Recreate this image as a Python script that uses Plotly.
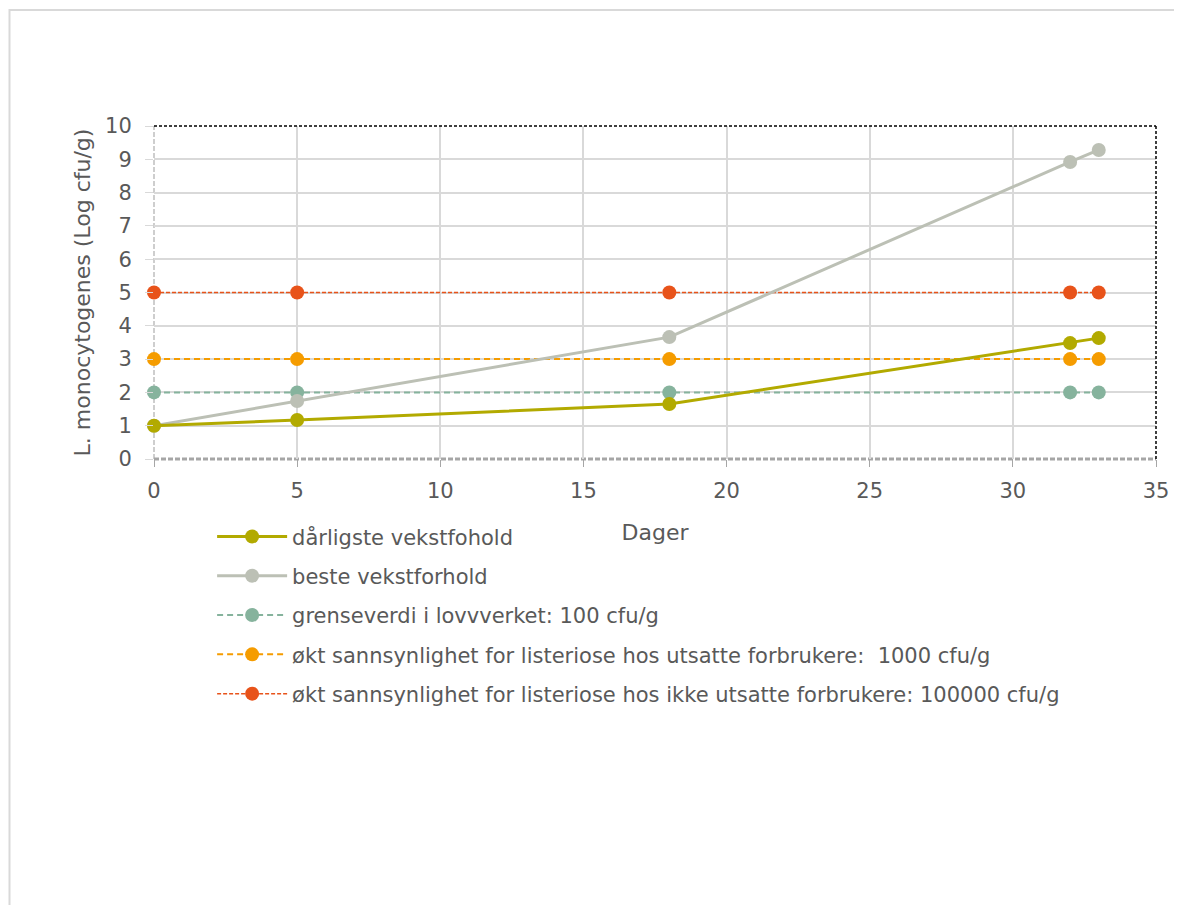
import plotly.graph_objects as go

days = [0, 5, 18, 32, 33]
worst = [1.0, 1.17, 1.65, 3.48, 3.63]
best = [1.0, 1.74, 3.66, 8.92, 9.28]
limit_100 = [2, 2, 2, 2, 2]
limit_1000 = [3, 3, 3, 3, 3]
limit_100000 = [5, 5, 5, 5, 5]

names = [
    "dårligste vekstfohold",
    "beste vekstforhold",
    "grenseverdi i lovvverket: 100 cfu/g",
    "økt sannsynlighet for listeriose hos utsatte forbrukere:  1000 cfu/g",
    "økt sannsynlighet for listeriose hos ikke utsatte forbrukere: 100000 cfu/g",
]
colors = ["#B2AA00", "#BCC0B5", "#86B39D", "#F59C00", "#E8531A"]

FONT = "DejaVu Sans"
TXT = "#595959"

fig = go.Figure()
series = [worst, best, limit_100, limit_1000, limit_100000]
styles = [
    dict(width=3, dash="solid"),
    dict(width=3, dash="solid"),
    dict(width=2, dash="6px,4px"),
    dict(width=2, dash="6px,4px"),
    dict(width=1.5, dash="4px,2px"),
]
order = [2, 3, 4, 1, 0]  # draw reference lines first, growth curves on top
for i in order:
    fig.add_trace(go.Scatter(
        x=days, y=series[i], name=names[i], mode="lines+markers",
        line=dict(color=colors[i], **styles[i]),
        marker=dict(color=colors[i], size=14),
        cliponaxis=False, legendrank=i, legendgroup=str(i),
    ))

fig.update_layout(
    width=1182, height=905,
    margin=dict(l=146, r=34, t=118, b=454),
    paper_bgcolor="white", plot_bgcolor="white",
    font=dict(family=FONT, color=TXT, size=21),
    showlegend=True,
    legend=dict(
        x=0.058, y=-0.172, xanchor="left", yanchor="top",
        orientation="v", itemwidth=70, tracegroupgap=9,
        font=dict(size=21, color=TXT, family=FONT),
        bgcolor="rgba(0,0,0,0)",
    ),
    xaxis=dict(
        range=[0, 35], dtick=5, showgrid=True, gridcolor="#D9D9D9", gridwidth=1.5,
        zeroline=False, ticks="outside", ticklen=7, tickcolor="#A6A6A6",
        tickfont=dict(size=21, color=TXT), ticklabelstandoff=6,
        title=dict(text="Dager", font=dict(size=22, color=TXT), standoff=22),
        showline=False,
    ),
    yaxis=dict(
        range=[0, 10], dtick=1, showgrid=True, gridcolor="#D9D9D9", gridwidth=1.5,
        zeroline=False, ticks="outside", ticklen=8, tickcolor="#D9D9D9",
        tickfont=dict(size=21, color=TXT), ticklabelstandoff=9,
        title=dict(text="L. monocytogenes (Log cfu/g)", font=dict(size=22, color=TXT), standoff=8),
        showline=False,
    ),
)

# plot area border: dotted black on top & right, gray dashed axis lines on left & bottom
fig.add_shape(type="line", xref="paper", yref="paper", x0=0, x1=1, y0=1, y1=1,
              line=dict(color="black", width=1.5, dash="3px,2px"))
fig.add_shape(type="line", xref="paper", yref="paper", x0=1, x1=1, y0=0, y1=1,
              line=dict(color="black", width=1.5, dash="3px,2px"))
fig.add_shape(type="line", xref="paper", yref="paper", x0=0, x1=0, y0=0, y1=1,
              line=dict(color="#BFBFBF", width=1.5, dash="5px,2px"), layer="below")
fig.add_shape(type="line", xref="paper", yref="paper", x0=0, x1=1, y0=0, y1=0,
              line=dict(color="#A6A6A6", width=3, dash="5px,2px"), layer="below")

# outer chart frame
fig.add_shape(type="rect", xref="paper", yref="paper",
              x0=(9.5 - 154) / 1002, x1=(1200 - 154) / 1002,
              y0=(459 - 920) / 333, y1=(459 - 10) / 333,
              line=dict(color="#D9D9D9", width=2))

fig.write_html("out.html")
